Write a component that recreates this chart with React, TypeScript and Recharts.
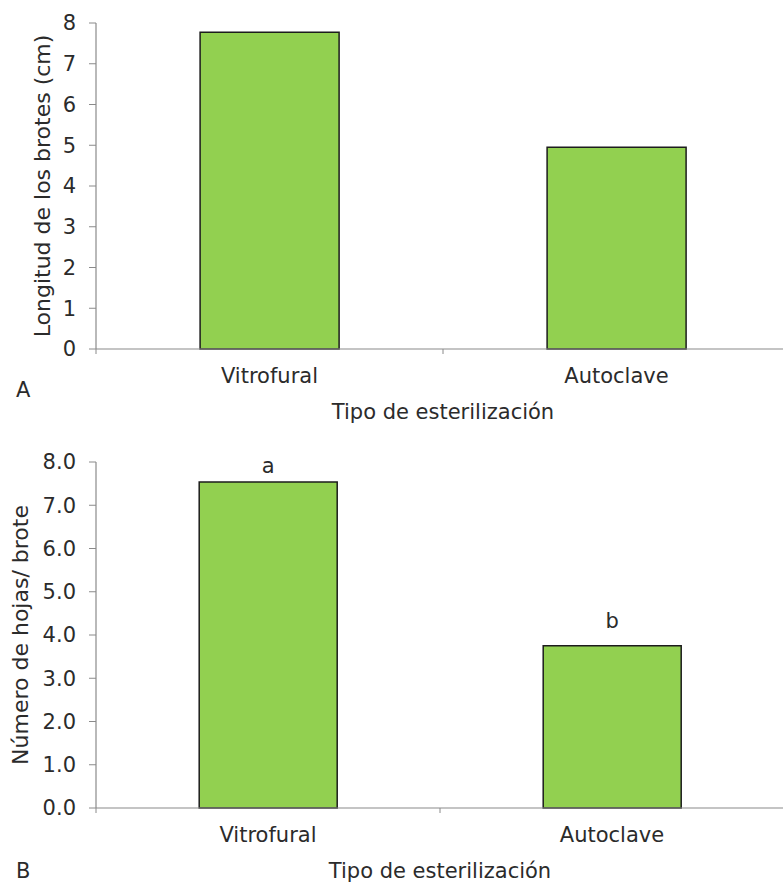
import React from 'react';
import { BarChart, Bar, XAxis, YAxis, LabelList } from 'recharts';

const categories = ['Vitrofural', 'Autoclave'];
const shootLength = [7.77, 4.95];
const leavesPerShoot = [7.54, 3.75];
const sigLetters = ['a', 'b'];
const yTicks = [0, 1, 2, 3, 4, 5, 6, 7, 8];
const xTitle = 'Tipo de esterilización';
const yTitleA = 'Longitud de los brotes (cm)';
const yTitleB = 'Número de hojas/ brote';

const dataA = categories.map((c, i) => ({ cat: c, v: shootLength[i] }));
const dataB = categories.map((c, i) => ({ cat: c, v: leavesPerShoot[i], sig: sigLetters[i] }));

const FONT = '"DejaVu Sans", Verdana, sans-serif';
const FS = 21;
const FS_YT = 22;
const TXT = '#2b2b2b';
const AXIS = '#8a8a8a';
const FILL = '#92D050';
const EDGE = '#1c1c1c';
const CAT_MARGIN = 19;
const SIG_GAPS = [9, 18];

const CatTick = (props: any) => {
  const { x, y, payload, index, visibleTicksCount } = props;
  const off = payload && payload.offset ? payload.offset : 0;
  const ay = y - CAT_MARGIN;
  const isLast = index === (visibleTicksCount ?? 2) - 1;
  return (
    <g>
      <line x1={x - off} x2={x - off} y1={ay} y2={ay + 5} stroke={AXIS} strokeWidth={1} />
      {isLast && <line x1={x + off} x2={x + off} y1={ay} y2={ay + 5} stroke={AXIS} strokeWidth={1} />}
      <text x={x} y={y} dy="0.71em" textAnchor="middle" fontFamily={FONT} fontSize={FS} fill={TXT}>
        {payload.value}
      </text>
    </g>
  );
};

const SigLabel = (props: any) => {
  const { x, y, width, value, index } = props;
  const gap = SIG_GAPS[index ?? 0] ?? 12;
  return (
    <text x={x + width / 2} y={y - gap} textAnchor="middle" fontFamily={FONT} fontSize={FS} fill={TXT}>
      {value}
    </text>
  );
};

const tickStyle = { fontFamily: FONT, fontSize: FS, fill: TXT };

const panelLetter = (letter: string, top: number) => (
  <div
    style={{
      position: 'absolute',
      left: 16,
      top,
      fontFamily: FONT,
      fontSize: FS,
      lineHeight: `${FS}px`,
      color: TXT,
    }}
  >
    {letter}
  </div>
);

export default function App() {
  return (
    <div
      style={{
        position: 'absolute',
        left: 0,
        top: 0,
        width: 783,
        height: 882,
        overflow: 'hidden',
        background: '#fff',
      }}
    >
      <div style={{ position: 'absolute', left: 0, top: 0 }}>
        <BarChart
          width={790}
          height={440}
          data={dataA}
          margin={{ top: 23, right: 0, bottom: 0, left: 0 }}
          barCategoryGap="30%"
        >
          <XAxis
            dataKey="cat"
            height={91}
            tickLine={false}
            tickSize={0}
            tickMargin={CAT_MARGIN}
            axisLine={{ stroke: AXIS, strokeWidth: 1.2 }}
            tick={<CatTick />}
            interval={0}
            label={{
              value: xTitle,
              position: 'insideTop',
              offset: 55,
              style: { fontFamily: FONT, fontSize: FS, fill: TXT },
            }}
          />
          <YAxis
            width={96}
            domain={[0, 8]}
            ticks={yTicks}
            interval={0}
            tickSize={7}
            tickMargin={13}
            tick={tickStyle}
            tickLine={{ stroke: AXIS }}
            axisLine={{ stroke: AXIS, strokeWidth: 1.2 }}
            label={{
              value: yTitleA,
              angle: -90,
              position: 'center',
              dx: -5.5,
              style: { fontFamily: FONT, fontSize: FS_YT, fill: TXT, textAnchor: 'middle' },
            }}
          />
          <Bar dataKey="v" fill={FILL} stroke={EDGE} strokeWidth={1.5} isAnimationActive={false} />
        </BarChart>
      </div>
      {panelLetter('A', 380)}
      <div style={{ position: 'absolute', left: 0, top: 440 }}>
        <BarChart
          width={784}
          height={442}
          data={dataB}
          margin={{ top: 22, right: 0, bottom: 0, left: 0 }}
          barCategoryGap="30%"
        >
          <XAxis
            dataKey="cat"
            height={74}
            tickLine={false}
            tickSize={0}
            tickMargin={CAT_MARGIN}
            axisLine={{ stroke: AXIS, strokeWidth: 1.2 }}
            tick={<CatTick />}
            interval={0}
            label={{
              value: xTitle,
              position: 'insideTop',
              offset: 55,
              style: { fontFamily: FONT, fontSize: FS, fill: TXT },
            }}
          />
          <YAxis
            width={96}
            domain={[0, 8]}
            ticks={yTicks}
            interval={0}
            tickSize={7}
            tickMargin={13}
            tick={tickStyle}
            tickFormatter={(v: number) => v.toFixed(1)}
            tickLine={{ stroke: AXIS }}
            axisLine={{ stroke: AXIS, strokeWidth: 1.2 }}
            label={{
              value: yTitleB,
              angle: -90,
              position: 'center',
              dx: -27.5,
              style: { fontFamily: FONT, fontSize: FS_YT, fill: TXT, textAnchor: 'middle' },
            }}
          />
          <Bar dataKey="v" fill={FILL} stroke={EDGE} strokeWidth={1.5} isAnimationActive={false}>
            <LabelList dataKey="sig" content={<SigLabel />} />
          </Bar>
        </BarChart>
      </div>
      {panelLetter('B', 861)}
    </div>
  );
}
